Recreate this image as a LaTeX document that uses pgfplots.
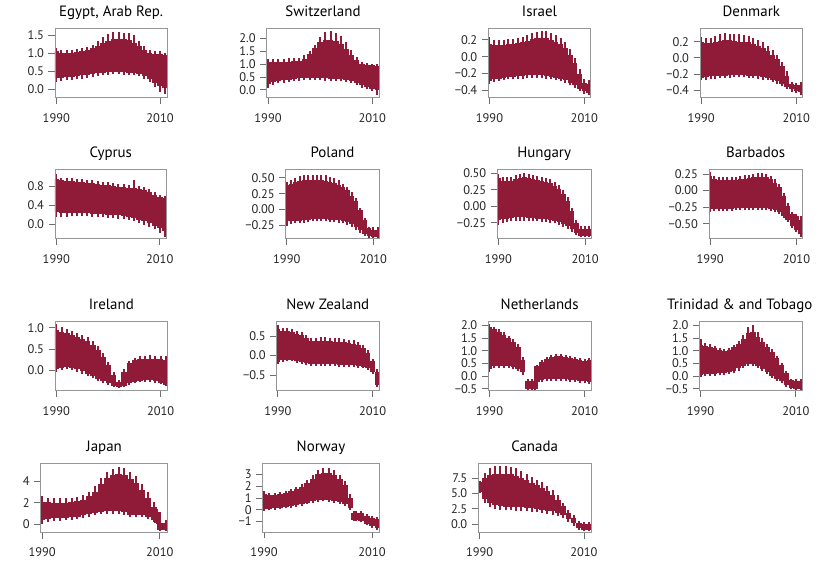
\documentclass[border=0pt]{standalone}
\usepackage{fontspec}
\setmainfont{PT Sans}
\usepackage{pgfplots}
\usepackage{pgfplotstable}
\pgfplotsset{compat=1.18}
\definecolor{crim}{RGB}{143,27,57}
\definecolor{frm}{RGB}{150,150,150}
\definecolor{tck}{RGB}{110,110,110}

\pgfplotstableread{
x top up lo bot
1990 1.15 1.05 0.30 0.18
1991 1.10 1.02 0.32 0.22
1992 1.08 1.00 0.33 0.24
1993 1.10 1.01 0.34 0.25
1994 1.12 1.03 0.36 0.27
1995 1.14 1.05 0.38 0.29
1996 1.18 1.09 0.40 0.32
1997 1.24 1.14 0.42 0.34
1998 1.33 1.20 0.44 0.37
1999 1.45 1.28 0.46 0.39
2000 1.55 1.35 0.47 0.40
2001 1.60 1.40 0.48 0.41
2002 1.60 1.40 0.48 0.41
2003 1.58 1.40 0.47 0.40
2004 1.58 1.37 0.46 0.40
2005 1.50 1.30 0.45 0.38
2006 1.35 1.20 0.42 0.35
2007 1.20 1.08 0.36 0.28
2008 1.08 1.00 0.27 0.18
2009 1.05 0.98 0.17 0.06
2010 1.05 0.97 0.08 -0.08
2011 1.02 0.95 0.02 -0.15
}\egypt
\pgfplotstableread{
x top up lo bot
1990 1.20 1.08 0.22 0.08
1991 1.18 1.07 0.30 0.20
1992 1.20 1.08 0.34 0.25
1993 1.20 1.08 0.37 0.28
1994 1.22 1.10 0.40 0.31
1995 1.23 1.11 0.42 0.33
1996 1.25 1.13 0.44 0.36
1997 1.35 1.20 0.46 0.38
1998 1.50 1.38 0.47 0.39
1999 1.75 1.62 0.46 0.38
2000 2.05 1.85 0.45 0.37
2001 2.25 1.95 0.44 0.36
2002 2.28 1.95 0.43 0.35
2003 2.22 1.90 0.42 0.34
2004 2.10 1.78 0.41 0.33
2005 1.85 1.58 0.39 0.31
2006 1.55 1.35 0.34 0.26
2007 1.28 1.15 0.27 0.18
2008 1.10 1.02 0.18 0.08
2009 1.05 0.96 0.12 0.02
2010 1.02 0.95 0.05 -0.06
2011 1.00 0.93 -0.02 -0.20
}\swiss
\pgfplotstableread{
x top up lo bot
1990 0.23 0.15 -0.29 -0.32
1991 0.20 0.14 -0.27 -0.30
1992 0.20 0.14 -0.26 -0.29
1993 0.20 0.14 -0.25 -0.28
1994 0.21 0.15 -0.24 -0.27
1995 0.21 0.15 -0.24 -0.27
1996 0.22 0.16 -0.23 -0.26
1997 0.24 0.17 -0.23 -0.26
1998 0.26 0.19 -0.22 -0.25
1999 0.28 0.21 -0.22 -0.25
2000 0.29 0.22 -0.22 -0.25
2001 0.30 0.22 -0.22 -0.25
2002 0.30 0.22 -0.23 -0.26
2003 0.28 0.20 -0.24 -0.27
2004 0.26 0.18 -0.25 -0.28
2005 0.22 0.15 -0.26 -0.29
2006 0.17 0.10 -0.28 -0.31
2007 0.09 0.02 -0.31 -0.34
2008 -0.02 -0.08 -0.34 -0.37
2009 -0.15 -0.20 -0.38 -0.41
2010 -0.27 -0.31 -0.41 -0.44
2011 -0.28 -0.32 -0.43 -0.46
}\israel
\pgfplotstableread{
x top up lo bot
1990 0.26 0.20 -0.25 -0.28
1991 0.25 0.18 -0.24 -0.27
1992 0.25 0.18 -0.23 -0.26
1993 0.27 0.19 -0.23 -0.26
1994 0.29 0.21 -0.22 -0.25
1995 0.31 0.22 -0.22 -0.25
1996 0.30 0.22 -0.21 -0.25
1997 0.29 0.21 -0.21 -0.24
1998 0.29 0.20 -0.21 -0.24
1999 0.28 0.20 -0.21 -0.24
2000 0.27 0.19 -0.22 -0.25
2001 0.25 0.17 -0.22 -0.25
2002 0.22 0.15 -0.23 -0.26
2003 0.19 0.12 -0.24 -0.27
2004 0.15 0.08 -0.25 -0.28
2005 0.10 0.04 -0.27 -0.30
2006 0.04 -0.02 -0.29 -0.32
2007 -0.05 -0.10 -0.32 -0.35
2008 -0.17 -0.22 -0.36 -0.39
2009 -0.30 -0.33 -0.39 -0.42
2010 -0.31 -0.34 -0.41 -0.44
2011 -0.30 -0.34 -0.42 -0.46
}\denmark
\pgfplotstableread{
x top up lo bot
1990 1.05 0.95 0.26 0.16
1991 0.98 0.92 0.24 0.15
1992 0.97 0.91 0.24 0.16
1993 0.97 0.90 0.24 0.17
1994 0.96 0.89 0.25 0.18
1995 0.95 0.88 0.25 0.18
1996 0.93 0.87 0.24 0.17
1997 0.92 0.86 0.23 0.16
1998 0.90 0.85 0.22 0.15
1999 0.89 0.83 0.22 0.15
2000 0.88 0.82 0.21 0.14
2001 0.86 0.80 0.20 0.13
2002 0.85 0.79 0.19 0.12
2003 0.84 0.78 0.17 0.11
2004 0.82 0.77 0.15 0.09
2005 0.93 0.76 0.13 0.07
2006 0.80 0.74 0.10 0.04
2007 0.78 0.72 0.07 0.00
2008 0.74 0.68 0.03 -0.05
2009 0.68 0.62 -0.02 -0.10
2010 0.62 0.57 -0.08 -0.18
2011 0.60 0.55 -0.14 -0.25
}\cyprus
\pgfplotstableread{
x top up lo bot
1990 0.44 0.38 -0.19 -0.26
1991 0.47 0.41 -0.19 -0.23
1992 0.50 0.43 -0.18 -0.22
1993 0.53 0.45 -0.18 -0.22
1994 0.54 0.46 -0.17 -0.21
1995 0.55 0.46 -0.16 -0.20
1996 0.55 0.46 -0.15 -0.19
1997 0.55 0.46 -0.15 -0.19
1998 0.55 0.46 -0.15 -0.19
1999 0.54 0.45 -0.15 -0.19
2000 0.52 0.44 -0.16 -0.20
2001 0.50 0.42 -0.16 -0.20
2002 0.46 0.39 -0.17 -0.21
2003 0.41 0.35 -0.18 -0.22
2004 0.36 0.30 -0.20 -0.24
2005 0.28 0.22 -0.23 -0.27
2006 0.18 0.13 -0.28 -0.32
2007 0.03 -0.01 -0.33 -0.37
2008 -0.13 -0.17 -0.38 -0.42
2009 -0.27 -0.30 -0.42 -0.45
2010 -0.28 -0.33 -0.43 -0.45
2011 -0.28 -0.33 -0.43 -0.45
}\poland
\pgfplotstableread{
x top up lo bot
1990 0.49 0.43 -0.21 -0.29
1991 0.45 0.39 -0.20 -0.25
1992 0.44 0.38 -0.19 -0.24
1993 0.45 0.39 -0.18 -0.23
1994 0.48 0.42 -0.17 -0.22
1995 0.49 0.43 -0.17 -0.22
1996 0.50 0.44 -0.17 -0.22
1997 0.49 0.43 -0.18 -0.22
1998 0.47 0.41 -0.18 -0.23
1999 0.46 0.40 -0.19 -0.23
2000 0.45 0.39 -0.19 -0.24
2001 0.43 0.37 -0.20 -0.24
2002 0.41 0.35 -0.21 -0.25
2003 0.37 0.31 -0.22 -0.26
2004 0.32 0.26 -0.24 -0.28
2005 0.24 0.18 -0.27 -0.31
2006 0.14 0.08 -0.30 -0.34
2007 -0.02 -0.07 -0.35 -0.39
2008 -0.21 -0.25 -0.41 -0.44
2009 -0.30 -0.35 -0.45 -0.47
2010 -0.30 -0.35 -0.45 -0.47
2011 -0.30 -0.35 -0.45 -0.47
}\hungary
\pgfplotstableread{
x top up lo bot
1990 0.28 0.22 -0.28 -0.33
1991 0.22 0.17 -0.28 -0.31
1992 0.21 0.16 -0.28 -0.31
1993 0.21 0.16 -0.28 -0.31
1994 0.21 0.16 -0.28 -0.31
1995 0.21 0.16 -0.28 -0.31
1996 0.21 0.16 -0.27 -0.30
1997 0.22 0.17 -0.27 -0.30
1998 0.23 0.18 -0.27 -0.30
1999 0.24 0.19 -0.26 -0.29
2000 0.25 0.20 -0.26 -0.29
2001 0.26 0.21 -0.26 -0.29
2002 0.26 0.21 -0.27 -0.30
2003 0.25 0.20 -0.27 -0.30
2004 0.22 0.17 -0.28 -0.31
2005 0.17 0.12 -0.30 -0.33
2006 0.10 0.05 -0.33 -0.36
2007 -0.03 -0.08 -0.38 -0.41
2008 -0.19 -0.23 -0.45 -0.48
2009 -0.32 -0.36 -0.54 -0.57
2010 -0.35 -0.39 -0.60 -0.63
2011 -0.38 -0.45 -0.66 -0.70
}\barbados
\pgfplotstableread{
x top up lo bot
1990 1.08 0.95 0.02 -0.04
1991 1.02 0.91 0.06 0.00
1992 0.98 0.88 0.08 0.02
1993 0.93 0.84 0.06 0.00
1994 0.88 0.78 0.02 -0.04
1995 0.84 0.74 -0.02 -0.08
1996 0.78 0.68 -0.08 -0.13
1997 0.68 0.59 -0.13 -0.18
1998 0.56 0.47 -0.20 -0.25
1999 0.40 0.31 -0.26 -0.31
2000 0.20 0.12 -0.31 -0.35
2001 -0.05 -0.12 -0.36 -0.39
2002 -0.22 -0.27 -0.39 -0.42
2003 0.03 -0.04 -0.37 -0.40
2004 0.22 0.16 -0.31 -0.35
2005 0.30 0.23 -0.27 -0.31
2006 0.33 0.26 -0.24 -0.28
2007 0.34 0.27 -0.23 -0.27
2008 0.35 0.27 -0.23 -0.27
2009 0.34 0.27 -0.25 -0.29
2010 0.33 0.26 -0.29 -0.33
2011 0.33 0.25 -0.34 -0.38
}\ireland
\pgfplotstableread{
x top up lo bot
1990 0.79 0.69 -0.17 -0.22
1991 0.72 0.64 -0.12 -0.17
1992 0.70 0.62 -0.10 -0.15
1993 0.68 0.60 -0.10 -0.15
1994 0.64 0.56 -0.13 -0.18
1995 0.60 0.52 -0.16 -0.21
1996 0.52 0.44 -0.19 -0.24
1997 0.45 0.37 -0.21 -0.26
1998 0.46 0.37 -0.22 -0.27
1999 0.47 0.38 -0.22 -0.27
2000 0.47 0.38 -0.22 -0.27
2001 0.46 0.37 -0.22 -0.27
2002 0.45 0.36 -0.22 -0.27
2003 0.44 0.35 -0.23 -0.28
2004 0.42 0.34 -0.23 -0.28
2005 0.41 0.33 -0.24 -0.29
2006 0.39 0.31 -0.25 -0.30
2007 0.35 0.27 -0.26 -0.31
2008 0.28 0.20 -0.28 -0.33
2009 0.14 0.07 -0.31 -0.36
2010 -0.08 -0.15 -0.42 -0.48
2011 -0.35 -0.42 -0.75 -0.80
}\nz
\pgfplotstableread{
x top up lo bot
1990 2.05 1.95 0.28 0.18
1991 1.95 1.85 0.38 0.30
1992 1.85 1.75 0.40 0.32
1993 1.72 1.62 0.40 0.32
1994 1.60 1.50 0.38 0.30
1995 1.45 1.35 0.34 0.26
1996 1.25 1.15 0.28 0.20
1997 0.75 0.62 0.15 0.05
1998 -0.12 -0.20 -0.50 -0.55
1999 -0.12 -0.20 -0.50 -0.55
1999.6 -0.12 -0.20 -0.50 -0.55
2000 0.45 0.38 -0.22 -0.30
2001 0.65 0.57 -0.16 -0.24
2002 0.75 0.68 -0.13 -0.20
2003 0.85 0.75 -0.12 -0.19
2004 0.87 0.78 -0.12 -0.19
2005 0.86 0.78 -0.12 -0.19
2006 0.84 0.76 -0.13 -0.20
2007 0.80 0.72 -0.15 -0.22
2008 0.75 0.67 -0.17 -0.24
2009 0.70 0.62 -0.19 -0.26
2010 0.66 0.58 -0.21 -0.28
2011 0.72 0.64 -0.24 -0.32
}\neth
\pgfplotstableread{
x top up lo bot
1990 1.45 1.22 0.05 -0.02
1991 1.30 1.18 0.08 0.00
1992 1.25 1.14 0.09 0.01
1993 1.20 1.09 0.10 0.02
1994 1.12 1.03 0.11 0.03
1995 1.08 0.99 0.13 0.05
1996 1.12 1.03 0.16 0.08
1997 1.24 1.14 0.21 0.13
1998 1.38 1.28 0.30 0.22
1999 1.62 1.48 0.40 0.32
2000 1.95 1.70 0.48 0.40
2001 2.02 1.74 0.47 0.39
2002 1.75 1.56 0.38 0.30
2003 1.52 1.36 0.27 0.19
2004 1.28 1.15 0.15 0.07
2005 1.06 0.96 0.02 -0.06
2006 0.80 0.70 -0.10 -0.18
2007 0.53 0.44 -0.21 -0.29
2008 0.20 0.11 -0.34 -0.42
2009 -0.10 -0.15 -0.46 -0.52
2010 -0.12 -0.19 -0.49 -0.54
2011 -0.12 -0.19 -0.50 -0.55
}\trinidad
\pgfplotstableread{
x top up lo bot
1990 2.65 2.10 0.38 0.00
1991 2.45 2.05 0.52 0.25
1992 2.45 2.02 0.55 0.28
1993 2.45 2.02 0.58 0.30
1994 2.45 2.03 0.62 0.35
1995 2.50 2.07 0.66 0.40
1996 2.55 2.15 0.72 0.48
1997 2.75 2.30 0.82 0.58
1998 3.05 2.60 0.95 0.70
1999 3.60 3.05 1.08 0.82
2000 4.30 3.80 1.18 0.95
2001 4.90 4.30 1.24 1.00
2002 5.20 4.60 1.25 1.00
2003 5.35 4.75 1.22 0.98
2004 5.30 4.60 1.10 0.90
2005 4.90 4.25 0.85 0.65
2006 4.50 3.85 0.90 0.70
2007 3.80 3.20 0.85 0.65
2008 3.00 2.45 0.70 0.50
2009 2.10 1.65 0.40 0.20
2009.6 1.40 1.15 0.15 0.00
2010 0.35 0.15 -0.55 -0.60
2011 0.35 0.15 -0.55 -0.60
}\japan
\pgfplotstableread{
x top up lo bot
1990 1.55 1.30 0.05 -0.10
1991 1.45 1.25 0.08 -0.05
1992 1.45 1.27 0.12 0.00
1993 1.50 1.32 0.16 0.04
1994 1.62 1.42 0.22 0.10
1995 1.78 1.55 0.28 0.16
1996 1.95 1.72 0.36 0.24
1997 2.20 1.95 0.46 0.33
1998 2.55 2.25 0.58 0.45
1999 2.95 2.60 0.70 0.55
2000 3.40 3.00 0.80 0.65
2001 3.55 3.15 0.85 0.70
2002 3.55 3.12 0.82 0.68
2003 3.35 2.95 0.75 0.60
2004 2.95 2.60 0.65 0.50
2005 2.45 2.10 0.45 0.30
2006 1.30 1.00 0.10 -0.05
2006.6 -0.10 -0.25 -0.85 -0.95
2007 -0.10 -0.25 -0.90 -1.00
2008 -0.15 -0.30 -0.95 -1.05
2009 -0.35 -0.50 -1.20 -1.30
2010 -0.55 -0.70 -1.40 -1.55
2011 -0.65 -0.80 -1.55 -1.70
}\norway
\pgfplotstableread{
x top up lo bot
1990 7.00 6.90 5.30 5.00
1991 8.40 7.50 4.00 3.40
1992 9.20 8.00 3.40 2.80
1993 9.40 8.15 3.10 2.50
1994 9.40 8.20 2.95 2.35
1995 9.40 8.20 2.85 2.30
1996 9.35 8.10 2.80 2.25
1997 9.10 7.90 2.75 2.20
1998 8.70 7.50 2.70 2.15
1999 8.20 7.10 2.65 2.10
2000 7.70 6.70 2.55 2.00
2001 7.25 6.30 2.45 1.95
2002 6.80 5.85 2.30 1.80
2003 6.20 5.35 2.20 1.70
2004 5.60 4.80 2.05 1.55
2005 4.70 3.95 1.85 1.35
2006 3.50 2.90 1.45 0.95
2007 2.30 1.80 0.85 0.40
2008 1.40 0.95 0.15 -0.25
2009 0.50 0.15 -0.60 -0.90
2010 0.35 0.00 -1.05 -1.15
2011 0.35 0.00 -1.05 -1.15
}\canada

\pgfplotsset{
  every axis title/.style={at={(0.5,1)}, anchor=base, yshift=11.6bp,
    font=\fontsize{15}{16}\selectfont},
  panel/.style={
    scale only axis, height=69bp,
    anchor=south west,
    xmin=1989.75, xmax=2011.35,
    xtick={1990,2010}, xticklabels={1990,2010},
    tick align=outside, xtick pos=left, ytick pos=left,
    major tick length=6.5bp,
    axis line style={frm, line width=0.8bp},
    tick style={tck, line width=0.8bp},
    ticklabel style={font=\fontsize{12.5}{13}\selectfont, text=black!85},
    xticklabel style={yshift=-6bp},
    yticklabel style={xshift=-1bp},
    clip=true, axis on top,
  },
}
\newcommand\panel[4]{%
\begin{axis}[panel, title={#3}, #1]
\addplot[crim, line width=#4, line cap=butt, forget plot,
  quiver={u=0, v=\thisrow{up}-\thisrow{lo}}] table[x=x, y=lo]{#2};
\addplot[crim, line width=2bp, line cap=butt, forget plot,
  quiver={u=0, v=\thisrow{top}-\thisrow{bot}}] table[x=x, y=bot]{#2};
\end{axis}}

\begin{document}
\begin{tikzpicture}
\useasboundingbox[fill=white] (0,0) rectangle (820bp,566bp);
% row 1
\panel{at={(55bp,468.7bp)}, width=112bp, ymin=-0.235, ymax=1.70,
  ytick={0,0.5,1,1.5}, yticklabels={0.0,0.5,1.0,1.5}}{\egypt}{Egypt, Arab Rep.}{5.6bp}
\panel{at={(266.7bp,468.7bp)}, width=112.6bp, ymin=-0.29, ymax=2.39,
  ytick={0,0.5,1,1.5,2}, yticklabels={0.0,0.5,1.0,1.5,2.0}}{\swiss}{Switzerland}{5.6bp}
\panel{at={(488.3bp,468.7bp)}, width=102.4bp, ymin=-0.483, ymax=0.338,
  ytick={-0.4,-0.2,0,0.2}, yticklabels={−0.4,−0.2,0.0,0.2}}{\israel}{Israel}{5.1bp}
\panel{at={(700bp,468.7bp)}, width=102.7bp, ymin=-0.49, ymax=0.366,
  ytick={-0.4,-0.2,0,0.2}, yticklabels={−0.4,−0.2,0.0,0.2}}{\denmark}{Denmark}{5.1bp}
% row 2
\panel{at={(55bp,327.5bp)}, width=111.7bp, height=69.5bp, ymin=-0.29, ymax=1.16,
  ytick={0,0.4,0.8}, yticklabels={0.0,0.4,0.8}}{\cyprus}{Cyprus}{5.6bp}
\panel{at={(285.7bp,327.5bp)}, width=93.6bp, height=69.5bp, ymin=-0.459, ymax=0.64,
  ytick={-0.25,0,0.25,0.5}, yticklabels={−0.25,0.00,0.25,0.50}}{\poland}{Poland}{4.7bp}
\panel{at={(497.3bp,327.5bp)}, width=93.7bp, height=69.5bp, ymin=-0.49, ymax=0.566,
  ytick={-0.25,0,0.25,0.5}, yticklabels={−0.25,0.00,0.25,0.50}}{\hungary}{Hungary}{4.7bp}
\panel{at={(709bp,327.5bp)}, width=93.3bp, height=69.5bp, ymin=-0.724, ymax=0.326,
  ytick={-0.5,-0.25,0,0.25}, yticklabels={−0.50,−0.25,0.00,0.25}}{\barbados}{Barbados}{4.7bp}
% row 3
\panel{at={(55bp,175.7bp)}, width=112.7bp, ymin=-0.47, ymax=1.15,
  ytick={0,0.5,1}, yticklabels={0.0,0.5,1.0}}{\ireland}{Ireland}{5.6bp}
\panel{at={(276.7bp,175.7bp)}, width=102.3bp, ymin=-0.89, ymax=0.88,
  ytick={-0.5,0,0.5}, yticklabels={−0.5,0.0,0.5}}{\nz}{New Zealand}{5.1bp}
\panel{at={(488.3bp,175.7bp)}, width=102.7bp, ymin=-0.56, ymax=2.16,
  ytick={-0.5,0,0.5,1,1.5,2}, yticklabels={−0.5,0.0,0.5,1.0,1.5,2.0}}{\neth}{Netherlands}{5.1bp}
\panel{at={(699.3bp,175.7bp)}, width=103bp, ymin=-0.56, ymax=2.16,
  ytick={-0.5,0,0.5,1,1.5,2}, yticklabels={−0.5,0.0,0.5,1.0,1.5,2.0},
  title style={xshift=-11bp}}{\trinidad}{Trinidad \& and Tobago}{5.1bp}
% row 4
\panel{at={(40.7bp,34bp)}, width=127bp, ymin=-0.73, ymax=5.74,
  ytick={0,2,4}, yticklabels={0,2,4}}{\japan}{Japan}{6.3bp}
\panel{at={(262.7bp,34bp)}, width=116.6bp, ymin=-1.9, ymax=3.97,
  ytick={-1,0,1,2,3}, yticklabels={−1,0,1,2,3}}{\norway}{Norway}{5.8bp}
\panel{at={(478.3bp,34bp)}, width=112.7bp, ymin=-1.3, ymax=9.95,
  ytick={0,2.5,5,7.5}, yticklabels={0.0,2.5,5.0,7.5}}{\canada}{Canada}{5.6bp}
\end{tikzpicture}
\end{document}
